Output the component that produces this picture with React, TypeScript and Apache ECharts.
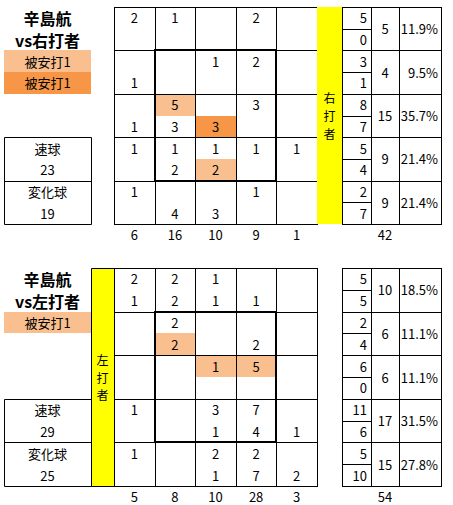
import { useEffect, useRef } from 'react';
import * as echarts from 'echarts';

// ---------- data ----------
const pitcherName = '辛島航';
const pitchTypes = ['速球', '変化球'];
const hitLegendLabels = ['被安打1', '被安打1'];

// vs right-handed batters
const rhTitle = 'vs右打者';
const rhSideLabel = '右打者';
const rhTopValues = [
  [2, 1, null, 2, null],
  [null, null, 1, 2, null],
  [null, 5, null, 3, null],
  [1, 1, 1, 1, 1],
  [1, null, null, 1, null],
];
const rhBottomValues = [
  [null, null, null, null, null],
  [1, null, null, null, null],
  [1, 3, 3, null, null],
  [null, 2, 2, null, null],
  [null, 4, 3, null, null],
];
// [row, col, half (0 = upper, 1 = lower), level]
const rhHitCells = [
  [2, 1, 0, 1],
  [2, 2, 1, 2],
  [3, 2, 1, 1],
];
const rhLegendLevels = [1, 2];
const rhColumnTotals = [6, 16, 10, 9, 1];
const rhGrandTotal = 42;
const rhRowFastball = [5, 3, 8, 5, 2];
const rhRowBreaking = [0, 1, 7, 4, 7];
const rhRowTotals = [5, 4, 15, 9, 9];
const rhRowShares = ['11.9%', '9.5%', '35.7%', '21.4%', '21.4%'];
const rhPitchCounts = [23, 19];

// vs left-handed batters
const lhTitle = 'vs左打者';
const lhSideLabel = '左打者';
const lhTopValues = [
  [2, 2, 1, null, null],
  [null, 2, null, null, null],
  [null, null, 1, 5, null],
  [1, null, 3, 7, null],
  [1, null, 2, 2, null],
];
const lhBottomValues = [
  [1, 2, 1, 1, null],
  [null, 2, null, 2, null],
  [null, null, null, null, null],
  [null, null, 1, 4, 1],
  [null, null, 1, 7, 2],
];
const lhHitCells = [
  [1, 1, 1, 1],
  [2, 2, 0, 1],
  [2, 3, 0, 1],
];
const lhLegendLevels = [1];
const lhColumnTotals = [5, 8, 10, 28, 3];
const lhGrandTotal = 54;
const lhRowFastball = [5, 2, 6, 11, 5];
const lhRowBreaking = [5, 4, 0, 6, 10];
const lhRowTotals = [10, 6, 6, 17, 15];
const lhRowShares = ['18.5%', '11.1%', '11.1%', '31.5%', '27.8%'];
const lhPitchCounts = [29, 25];

// ---------- styles / layout ----------
const FONT = '"Noto Sans CJK JP", "Noto Sans", sans-serif';
const LEVEL_COLORS: Record<number, string> = { 1: '#FABF8F', 2: '#F79646' };
const STRIP_COLOR = '#FFFF00';
const TABLE_COLS = [29, 28, 42];

const panels = [
  {
    title: rhTitle, side: rhSideLabel, top: rhTopValues, bottom: rhBottomValues, hits: rhHitCells,
    legend: rhLegendLevels, colTotals: rhColumnTotals, grand: rhGrandTotal, rowFast: rhRowFastball,
    rowBreak: rhRowBreaking, rowTotals: rhRowTotals, rowShares: rhRowShares, pitchCounts: rhPitchCounts,
    layout: { top: 7, height: 217, stripLeft: 317, stripWidth: 25, stripBorder: false, charStep: 0.81 },
  },
  {
    title: lhTitle, side: lhSideLabel, top: lhTopValues, bottom: lhBottomValues, hits: lhHitCells,
    legend: lhLegendLevels, colTotals: lhColumnTotals, grand: lhGrandTotal, rowFast: lhRowFastball,
    rowBreak: lhRowBreaking, rowTotals: lhRowTotals, rowShares: lhRowShares, pitchCounts: lhPitchCounts,
    layout: { top: 268, height: 218, stripLeft: 91, stripWidth: 23, stripBorder: true, charStep: 0.81 },
  },
];

type Item = {
  box: number[];
  kind: 'fill' | 'line' | 'frame' | 'text';
  color?: string;
  width?: number;
  text?: string;
  align?: 'left' | 'center' | 'right';
  pad?: number;
  size?: number;
  bold?: boolean;
};

const makeRender = (items: Item[]) => (params: any, api: any) => {
  const it = items[params.dataIndex];
  const a = api.coord([api.value(0), api.value(1)]);
  const b = api.coord([api.value(2), api.value(3)]);
  const x0 = Math.min(a[0], b[0]);
  const x1 = Math.max(a[0], b[0]);
  const y0 = Math.min(a[1], b[1]);
  const y1 = Math.max(a[1], b[1]);
  if (it.kind === 'fill') {
    const rx = Math.round(x0), ry = Math.round(y0);
    return {
      type: 'rect',
      shape: { x: rx, y: ry, width: Math.round(x1) - rx, height: Math.round(y1) - ry },
      style: { fill: it.color },
    };
  }
  if (it.kind === 'line') {
    const lw = it.width || 1;
    const off = lw % 2 === 1 ? 0.5 : 0;
    if (Math.abs(y1 - y0) < 0.01) {
      const y = Math.round(y0) + off;
      return {
        type: 'line',
        shape: { x1: Math.round(x0), y1: y, x2: Math.round(x1) + 1, y2: y },
        style: { stroke: '#000', lineWidth: lw },
      };
    }
    const x = Math.round(x0) + off;
    return {
      type: 'line',
      shape: { x1: x, y1: Math.round(y0), x2: x, y2: Math.round(y1) + 1 },
      style: { stroke: '#000', lineWidth: lw },
    };
  }
  if (it.kind === 'frame') {
    const lw = it.width || 1;
    const off = lw % 2 === 1 ? 0.5 : 0;
    const rx = Math.round(x0) + off, ry = Math.round(y0) + off;
    return {
      type: 'rect',
      shape: { x: rx, y: ry, width: Math.round(x1) - Math.round(x0), height: Math.round(y1) - Math.round(y0) },
      style: { fill: 'none', stroke: '#000', lineWidth: lw },
    };
  }
  const pad = it.pad ?? 4;
  const align = it.align || 'center';
  const tx = align === 'right' ? x1 - pad : align === 'left' ? x0 + pad : (x0 + x1) / 2;
  return {
    type: 'text',
    x: tx,
    y: (y0 + y1) / 2,
    style: {
      text: it.text,
      fill: '#000',
      align,
      verticalAlign: 'middle',
      fontFamily: FONT,
      fontSize: it.size || 13,
      fontWeight: it.bold ? 'bold' : 'normal',
    },
  };
};

function buildOption() {
  const grid: any[] = [];
  const xAxis: any[] = [];
  const yAxis: any[] = [];
  const series: any[] = [];

  const addGrid = (left: number, top: number, width: number, height: number, xMax: number, items: Item[]) => {
    const gi = grid.length;
    grid.push({ left, top, width, height, show: false });
    xAxis.push({ type: 'value', gridIndex: gi, min: 0, max: xMax, show: false });
    yAxis.push({ type: 'value', gridIndex: gi, min: 0, max: 10, inverse: true, show: false });
    series.push({
      type: 'custom',
      xAxisIndex: gi,
      yAxisIndex: gi,
      clip: false,
      silent: true,
      data: items.map((it) => it.box),
      renderItem: makeRender(items),
    });
  };

  panels.forEach((p) => {
    const L = p.layout;
    const nRows = p.top.length;
    const nCols = p.top[0].length;

    // ----- main matrix (x in columns, y in half rows) -----
    const main: Item[] = [];
    p.hits.forEach(([r, c, h, lv]) => {
      main.push({ box: [c, r * 2 + h, c + 1, r * 2 + h + 1], kind: 'fill', color: LEVEL_COLORS[lv] });
    });
    for (let r = 0; r < nRows; r++) {
      for (let c = 0; c < nCols; c++) {
        const t = p.top[r][c];
        const b = p.bottom[r][c];
        if (t != null) main.push({ box: [c, r * 2, c + 1, r * 2 + 1], kind: 'text', text: String(t) });
        if (b != null) main.push({ box: [c, r * 2 + 1, c + 1, r * 2 + 2], kind: 'text', text: String(b) });
      }
    }
    p.colTotals.forEach((v, c) => {
      main.push({ box: [c, 10.0, c + 1, 11.0], kind: 'text', text: String(v) });
    });
    for (let r = 0; r <= nRows; r++) main.push({ box: [0, r * 2, nCols, r * 2], kind: 'line' });
    for (let c = 0; c <= nCols; c++) main.push({ box: [c, 0, c, nRows * 2], kind: 'line' });
    main.push({ box: [1, 2, 4, 8], kind: 'frame', width: 2 });
    addGrid(114, L.top, 203, L.height, nCols, main);

    // ----- yellow batter-side strip -----
    const strip: Item[] = [{ box: [0, 0, 1, 10], kind: 'fill', color: STRIP_COLOR }];
    if (L.stripBorder) strip.push({ box: [0, 0, 1, 10], kind: 'frame' });
    const chars = p.side.split('');
    chars.forEach((ch, k) => {
      const cy = 5 + (k - (chars.length - 1) / 2) * L.charStep;
      strip.push({ box: [0, cy - 0.3, 1, cy + 0.3], kind: 'text', text: ch, size: 12, pad: 0 });
    });
    addGrid(L.stripLeft, L.top, L.stripWidth, L.height, 1, strip);

    // ----- right summary table -----
    const c1 = TABLE_COLS[0];
    const c2 = c1 + TABLE_COLS[1];
    const c3 = c2 + TABLE_COLS[2];
    const table: Item[] = [];
    for (let r = 0; r < nRows; r++) {
      table.push({ box: [0, r * 2, c1, r * 2 + 1], kind: 'text', text: String(p.rowFast[r]), align: 'right', pad: 4 });
      table.push({ box: [0, r * 2 + 1, c1, r * 2 + 2], kind: 'text', text: String(p.rowBreak[r]), align: 'right', pad: 4 });
      table.push({ box: [c1, r * 2, c2, r * 2 + 2], kind: 'text', text: String(p.rowTotals[r]) });
      table.push({ box: [c2, r * 2, c3, r * 2 + 2], kind: 'text', text: p.rowShares[r], align: 'right', pad: 3 });
      table.push({ box: [0, r * 2 + 1, c1, r * 2 + 1], kind: 'line' });
    }
    table.push({ box: [c1, 10.0, c2, 11.0], kind: 'text', text: String(p.grand) });
    for (let r = 0; r <= nRows; r++) table.push({ box: [0, r * 2, c3, r * 2], kind: 'line' });
    [0, c1, c2, c3].forEach((x) => table.push({ box: [x, 0, x, nRows * 2], kind: 'line' }));
    addGrid(342, L.top, c3, L.height, c3, table);

    // ----- left side: title, legend, pitch-type counts -----
    const side: Item[] = [];
    side.push({ box: [0, 0, 1, 1], kind: 'text', text: pitcherName, size: 16, bold: true });
    side.push({ box: [0, 1, 1, 2], kind: 'text', text: p.title, size: 16, bold: true });
    p.legend.forEach((lv, i) => {
      side.push({ box: [0, 2 + i, 1, 3 + i], kind: 'fill', color: LEVEL_COLORS[lv] });
      side.push({ box: [0, 2 + i, 1, 3 + i], kind: 'text', text: hitLegendLabels[i] });
    });
    pitchTypes.forEach((name, i) => {
      side.push({ box: [0, 6 + i * 2, 1, 7 + i * 2], kind: 'text', text: name });
      side.push({ box: [0, 7 + i * 2, 1, 8 + i * 2], kind: 'text', text: String(p.pitchCounts[i]) });
    });
    side.push({ box: [0, 6, 1, 10], kind: 'frame' });
    side.push({ box: [0, 8, 1, 8], kind: 'line' });
    addGrid(4, L.top, 87, L.height, 1, side);
  });

  return {
    animation: false,
    backgroundColor: '#fff',
    grid,
    xAxis,
    yAxis,
    series,
  };
}

export default function App() {
  const ref = useRef<HTMLDivElement>(null);
  useEffect(() => {
    if (!ref.current) return;
    const chart = echarts.init(ref.current, undefined, { renderer: 'svg' });
    chart.setOption(buildOption() as any);
    return () => chart.dispose();
  }, []);
  return (
    <div
      ref={ref}
      style={{ position: 'fixed', left: 0, top: 0, width: 453, height: 505, background: '#fff' }}
    />
  );
}
